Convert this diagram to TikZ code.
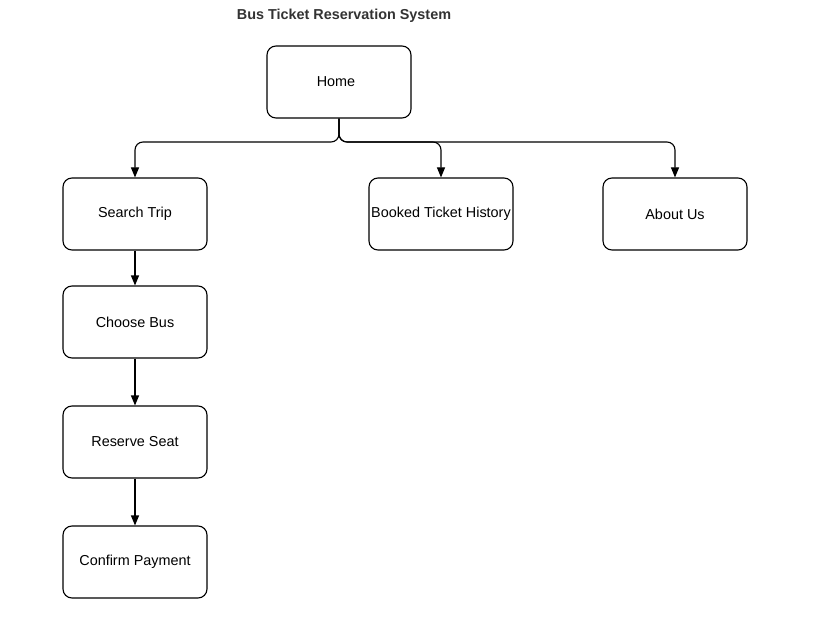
\documentclass[tikz,border=0pt]{standalone}
\usepackage{fontspec}
\setmainfont{Liberation Sans}
\usetikzlibrary{arrows.meta}
\definecolor{titlegray}{HTML}{333333}
\begin{document}
\begin{tikzpicture}[x=1pt,y=-1pt,
  box/.style={draw=black,line width=1.1pt,rounded corners=9pt,minimum width=144pt,minimum height=72pt,inner sep=0pt,font=\fontsize{14.4pt}{17pt}\selectfont},
  conn/.style={draw=black,line width=1.1pt,rounded corners=8pt,-{Triangle[length=10pt,width=8pt]}}]
\useasboundingbox (0,0) rectangle (824,644);
\node[font=\bfseries\fontsize{14.4pt}{17pt}\selectfont,text=titlegray] (title) at (344,16) {Bus Ticket Reservation System};
\node[box] (home) at (339,82) {\hspace*{-6pt}Home};
\node[box] (st) at (135,214) {Search Trip};
\node[box] (bh) at (441,214) {Booked Ticket History};
\node[box] (au) at (675,214) {About Us};
\node[box] (cb) at (135,322) {Choose Bus};
\node[box] (rs) at (135,442) {Reserve Seat};
\node[box] (cp) at (135,562) {Confirm Payment};
\coordinate (bus) at (339,142);
\draw[conn] (home.south) |- (st.north |- bus) -- (st.north);
\draw[conn] (home.south) |- (bh.north |- bus) -- (bh.north);
\draw[conn] (home.south) |- (au.north |- bus) -- (au.north);
\draw[conn] (st) -- (cb);
\draw[conn] (cb) -- (rs);
\draw[conn] (rs) -- (cp);
\end{tikzpicture}
\end{document}
